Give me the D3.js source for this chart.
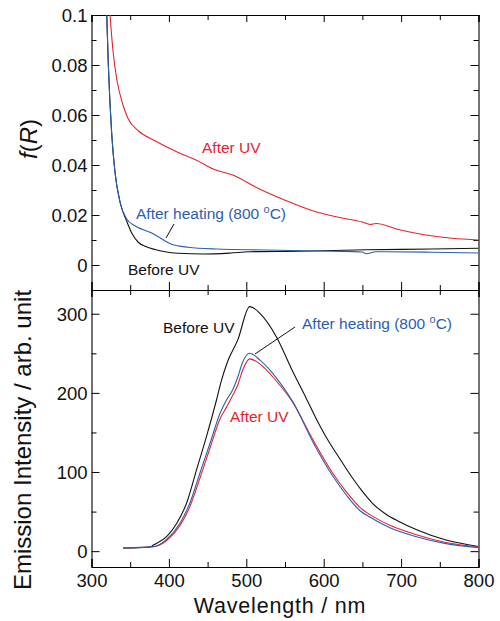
<!DOCTYPE html>
<html>
<head>
<meta charset="utf-8">
<style>
  body { margin: 0; background: #fff; }
  svg { display: block; font-family: "Liberation Sans", Arial, sans-serif; }
  .axis path { stroke: #000; }
  .axis line { stroke: #000; }
  .axis text { font-size: 18.5px; fill: #111; }
</style>
</head>
<body>
<svg width="500" height="621"></svg>
<script src="https://d3js.org/d3.v7.min.js"></script>
<script>

// ---- data ----
// top panel: f(R) vs wavelength
var absBeforeUV = [[318.6,0.11],[319.7,0.1],[321.8,0.0797],[326,0.053],[330.4,0.037],[337,0.025],[345.5,0.0175],[352,0.0128],[360.4,0.0091],[370,0.0074],[382,0.0062],[395,0.0053],[412,0.0047],[446,0.0044],[480,0.0048],[504,0.0053],[568.8,0.0055],[654.8,0.0061],[740,0.0064],[800,0.0067]];
var absAfterUV = [[321,0.115],[324,0.1],[328,0.085],[332.6,0.0744],[341,0.0637],[347.5,0.0584],[360.4,0.0537],[382,0.0497],[412,0.045],[435,0.042],[457,0.0384],[482.5,0.036],[517,0.0304],[551.7,0.0257],[585.8,0.0217],[620.4,0.019],[650,0.0172],[660,0.0162],[667.6,0.0166],[697.7,0.0141],[732,0.012],[766,0.0107],[800,0.0100]];
var absAfterHeat = [[318.6,0.11],[319.7,0.1],[321.8,0.0797],[326,0.053],[330.4,0.037],[337,0.025],[345.5,0.0184],[356,0.0157],[377.7,0.0128],[390,0.0106],[403.5,0.0083],[425,0.0071],[461.5,0.0064],[526,0.006],[611,0.0055],[650,0.0052],[654.8,0.0045],[667.6,0.0053],[740,0.0051],[800,0.0048]];

// bottom panel: emission intensity vs wavelength
var emBeforeUV = [[341,4],[375,5],[380,7.8],[397,18.3],[410,35],[422.8,60.5],[435.7,102.7],[448.6,145],[461.5,191],[468,216],[476,240],[489,267],[504.4,309],[510,307],[517,301],[538.8,271],[560,227],[577,194],[590,168],[605,141],[620,118],[633,98.5],[648,78],[663,60.5],[680,47],[697.7,37.3],[721,26.8],[758,14],[800,6]];
var emAfterUV = [[341,4],[380,5.5],[397,13.5],[414,32],[427,56],[440,92],[453,130],[466,167],[474.4,182],[483,198],[489,210],[495,228],[504.4,243],[517,237],[538.8,215],[560,188],[586,141],[611.7,98.5],[630,74],[646,56],[665,43],[684.8,33],[721,20.5],[758,11],[800,5.5]];
var emAfterHeat = [[341,4],[380,5.7],[397,15],[414,35],[427,60.5],[440,98.5],[453,136],[466,174],[474.4,191],[483,205],[489,220],[495,238],[504.4,250],[517,242],[538.8,219],[560,189],[586,138],[611.7,95],[630,70],[646,52],[665,40],[684.8,30],[721,18],[758,9.5],[800,4.5]];

var xTicks = [300, 400, 500, 600, 700, 800];
var xMinor = [350, 450, 550, 650, 750];
var topTicks = [0, 0.02, 0.04, 0.06, 0.08, 0.1];
var topMinor = [0.01, 0.03, 0.05, 0.07, 0.09];
var botTicks = [0, 100, 200, 300];
var botMinor = [50, 150, 250];

var RED = "#e8222c", BLUE = "#2c5eb0", BLACK = "#111";

var svg = d3.select("svg");
var left = 91.5, right = 478.5;
var topY0 = 15, midY = 290, botY1 = 567;

var x = d3.scaleLinear().domain([300, 800]).range([left, right]);
var yTop = d3.scaleLinear().domain([-0.01, 0.1]).range([midY, topY0]);
var yBot = d3.scaleLinear().domain([-20, 330]).range([botY1, midY]);

var defs = svg.append("defs");
defs.append("clipPath").attr("id", "clipTop").append("rect")
    .attr("x", left).attr("y", topY0).attr("width", right - left).attr("height", midY - topY0);
defs.append("clipPath").attr("id", "clipBot").append("rect")
    .attr("x", left).attr("y", midY).attr("width", right - left).attr("height", botY1 - midY);

function frame(y, y0, y1, major, minor, fmt, showX) {
  var g = svg.append("g");
  // left axis
  g.append("g").attr("class", "axis").attr("transform", "translate(" + left + ",0)")
      .call(d3.axisLeft(y).tickValues(major).tickSize(-8).tickPadding(4).tickFormat(fmt))
      .call(function(s) { s.selectAll("text").attr("x", -4).attr("dy", "0.36em"); });
  g.append("g").attr("class", "axis").attr("transform", "translate(" + left + ",0)")
      .call(d3.axisLeft(y).tickValues(minor).tickSize(-5).tickFormat(""))
      .call(function(s) { s.select(".domain").remove(); });
  // right axis
  g.append("g").attr("class", "axis").attr("transform", "translate(" + right + ",0)")
      .call(d3.axisRight(y).tickValues(major).tickSize(-8).tickFormat(""));
  g.append("g").attr("class", "axis").attr("transform", "translate(" + right + ",0)")
      .call(d3.axisRight(y).tickValues(minor).tickSize(-5).tickFormat(""))
      .call(function(s) { s.select(".domain").remove(); });
  // top axis
  g.append("g").attr("class", "axis").attr("transform", "translate(0," + y0 + ")")
      .call(d3.axisTop(x).tickValues(xTicks).tickSize(-7).tickFormat(""));
  g.append("g").attr("class", "axis").attr("transform", "translate(0," + y0 + ")")
      .call(d3.axisTop(x).tickValues(xMinor).tickSize(-5).tickFormat(""))
      .call(function(s) { s.select(".domain").remove(); });
  // bottom axis
  var bx = g.append("g").attr("class", "axis").attr("transform", "translate(0," + y1 + ")")
      .call(d3.axisBottom(x).tickValues(xTicks).tickSize(-8).tickFormat(showX ? d3.format("d") : ""));
  bx.selectAll("text").attr("y", 7);
  g.append("g").attr("class", "axis").attr("transform", "translate(0," + y1 + ")")
      .call(d3.axisBottom(x).tickValues(xMinor).tickSize(-5).tickFormat(""))
      .call(function(s) { s.select(".domain").remove(); });
  g.selectAll(".domain").attr("stroke-width", 1.1);
}

frame(yTop, topY0, midY, topTicks, topMinor, function(d) { return d === 0 ? "0" : d3.format(".2~f")(d); }, false);
frame(yBot, midY, botY1, botTicks, botMinor, d3.format("d"), true);

var lineTop = d3.line().curve(d3.curveMonotoneX)
    .x(function(d) { return x(d[0]); }).y(function(d) { return yTop(d[1]); });
var lineBot = d3.line().curve(d3.curveMonotoneX)
    .x(function(d) { return x(d[0]); }).y(function(d) { return yBot(d[1]); });

var gt = svg.append("g").attr("clip-path", "url(#clipTop)").attr("fill", "none").attr("stroke-width", 1.1);
gt.append("path").datum(absAfterUV).attr("stroke", RED).attr("d", lineTop);
gt.append("path").datum(absBeforeUV).attr("stroke", BLACK).attr("d", lineTop);
gt.append("path").datum(absAfterHeat).attr("stroke", BLUE).attr("d", lineTop);

var gb = svg.append("g").attr("clip-path", "url(#clipBot)").attr("fill", "none").attr("stroke-width", 1.1);
gb.append("path").datum(emBeforeUV).attr("stroke", BLACK).attr("d", lineBot);
gb.append("path").datum(emAfterUV).attr("stroke", RED).attr("d", lineBot);
gb.append("path").datum(emAfterHeat).attr("stroke", BLUE).attr("d", lineBot);

// annotations
function label(px, py, txt, col) {
  return svg.append("text").attr("x", px).attr("y", py).attr("fill", col)
      .style("font-size", "15.5px").text(txt);
}
function heatLabel(px, py) {
  var t = svg.append("text").attr("x", px).attr("y", py).attr("fill", BLUE).style("font-size", "15.5px");
  t.append("tspan").text("After heating (800 ");
  t.append("tspan").attr("dy", -6).style("font-size", "11px").text("o");
  t.append("tspan").attr("dy", 6).text("C)");
}
label(202, 153, "After UV", RED);
heatLabel(136, 219);
label(128, 275, "Before UV", BLACK);
svg.append("line").attr("x1", 166).attr("y1", 238).attr("x2", 174).attr("y2", 224).attr("stroke", BLACK);

label(163, 333, "Before UV", BLACK);
heatLabel(302, 329);
label(230, 422, "After UV", RED);
svg.append("line").attr("x1", 295).attr("y1", 327).attr("x2", 255).attr("y2", 354).attr("stroke", BLACK);

// axis titles
var ft = svg.append("text").attr("transform", "translate(37,139) rotate(-90)")
    .attr("text-anchor", "middle").style("font-size", "24px").attr("fill", BLACK);
ft.append("tspan").style("font-style", "italic").text("f");
ft.append("tspan").text("(");
ft.append("tspan").style("font-style", "italic").text("R");
ft.append("tspan").text(")");

svg.append("text").attr("transform", "translate(31,440) rotate(-90)")
    .attr("text-anchor", "middle").style("font-size", "24px").attr("fill", BLACK)
    .text("Emission Intensity / arb. unit");

svg.append("text").attr("x", 280).attr("y", 613).attr("text-anchor", "middle")
    .style("font-size", "21.5px").style("letter-spacing", "0.8px").attr("fill", BLACK)
    .text("Wavelength / nm");

</script>
</body>
</html>
